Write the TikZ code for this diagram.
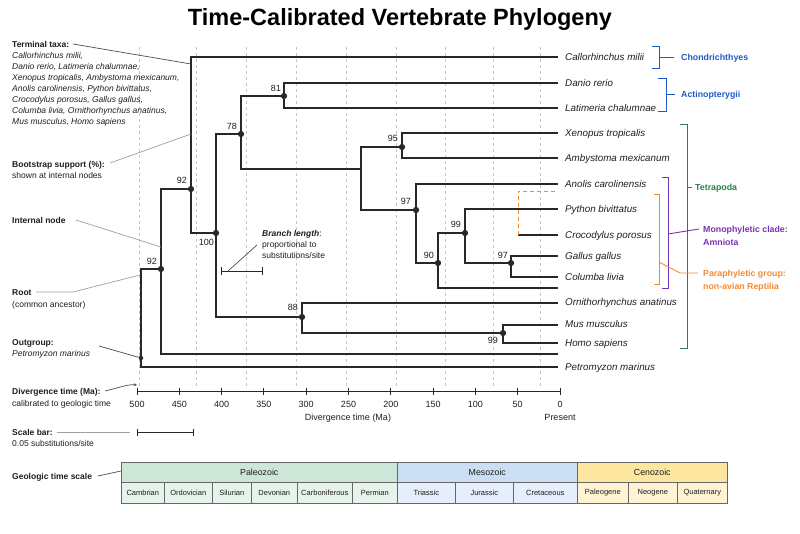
\documentclass[tikz,border=0pt]{standalone}
\usepackage{fontspec}
\setmainfont{Liberation Sans}
\usetikzlibrary{calc,arrows.meta}
\definecolor{treeclr}{RGB}{40,40,40}
\definecolor{txt}{RGB}{30,30,30}
\definecolor{cblue}{RGB}{30,90,200}
\definecolor{cgreen}{RGB}{35,130,75}
\definecolor{cpurple}{RGB}{118,52,180}
\definecolor{corange}{RGB}{240,140,50}
\definecolor{paleoH}{RGB}{206,230,215}
\definecolor{paleoC}{RGB}{230,243,235}
\definecolor{mesoH}{RGB}{204,222,244}
\definecolor{mesoC}{RGB}{229,238,250}
\definecolor{cenoH}{RGB}{252,230,160}
\definecolor{cenoC}{RGB}{254,244,212}
\begin{document}
\begin{tikzpicture}[x=1pt,y=-1pt,
  ann/.style={font=\fontsize{8.5}{10}\selectfont, text=txt, anchor=base west, inner sep=0pt},
  annb/.style={ann, font=\fontsize{8.5}{10}\selectfont\bfseries},
  anni/.style={ann, font=\fontsize{8.5}{10}\selectfont\itshape},
  taxon/.style={font=\fontsize{9.8}{11}\selectfont\itshape, text=txt, anchor=base west, inner sep=0pt},
  br/.style={draw=treeclr, line width=1.3pt},
  dotn/.style={circle, fill=treeclr, inner sep=0pt, minimum size=6.3pt},
  bs/.style={font=\fontsize{9}{10}\selectfont, text=txt, inner sep=0pt},
  gridl/.style={draw=gray!45, line width=0.4pt, dash pattern=on 3pt off 3pt},
  ptr/.style={draw=gray!75, line width=0.7pt},
  ptrd/.style={draw=black!70, line width=0.7pt},
  clade/.style={font=\fontsize{8.8}{10}\selectfont\bfseries, anchor=base west, inner sep=0pt},
  geoH/.style={draw=black!60, line width=0.6pt, anchor=north west, inner sep=0pt, minimum height=20pt, font=\fontsize{8.8}{10}\selectfont, text=txt},
  geoC/.style={draw=black!60, line width=0.6pt, anchor=north west, inner sep=0pt, minimum height=21pt, font=\fontsize{7.5}{9}\selectfont, text=txt},
  bar/.style={draw=treeclr, line width=0.9pt}
]
\useasboundingbox (0,0) rectangle (800,533);

% title
\node[font=\fontsize{23.5}{26}\selectfont\bfseries, text=black, inner sep=0pt] (title) at (400,19) {Time-Calibrated Vertebrate Phylogeny};

% dashed grid
\foreach \gx [count=\i] in {139,196,246,296,346,396,445,493,540} {
  \coordinate (gt\i) at (\gx,47);
  \coordinate (gb\i) at (\gx,389);
  \draw[gridl] (gt\i) -- (gb\i);
}

% tree coordinates
\coordinate (root) at (141,358);
\coordinate (n92a) at (161,269);
\coordinate (n92b) at (191,189);
\coordinate (n100) at (216,233);
\coordinate (n78) at (241,134);
\coordinate (n81) at (284,96);
\coordinate (nT) at (361,169);
\coordinate (n95) at (402,147);
\coordinate (n97a) at (416,210);
\coordinate (n90) at (438,263);
\coordinate (n99a) at (465,233);
\coordinate (n97b) at (511,263);
\coordinate (n88) at (302,317);
\coordinate (n99b) at (503,333);
\coordinate (cro) at (518,235);
\coordinate (croT) at (558,191);

\coordinate (lCal) at (558,57);
\coordinate (lDan) at (558,83);
\coordinate (lLat) at (558,108);
\coordinate (lXen) at (558,133);
\coordinate (lAmb) at (558,158);
\coordinate (lAno) at (558,184);
\coordinate (lPyt) at (558,209);
\coordinate (lCro) at (558,235);
\coordinate (lGal) at (558,256);
\coordinate (lCol) at (558,277);
\coordinate (u1) at (558,288);
\coordinate (lOrn) at (558,303);
\coordinate (lMus) at (558,325);
\coordinate (lHom) at (558,343);
\coordinate (u2) at (558,354);
\coordinate (lPet) at (558,367);

% branches
\draw[br] (root) |- (n92a);
\draw[br] (root) |- (lPet);
\draw[br] (n92a) |- (n92b);
\draw[br] (n92a) |- (u2);
\draw[br] (n92b) |- (lCal);
\draw[br] (n92b) |- (n100);
\draw[br] (n100) |- (n78);
\draw[br] (n100) |- (n88);
\draw[br] (n78) |- (n81);
\draw[br] (n78) |- (nT);
\draw[br] (n81) |- (lDan);
\draw[br] (n81) |- (lLat);
\draw[br] (nT) |- (n95);
\draw[br] (nT) |- (n97a);
\draw[br] (n95) |- (lXen);
\draw[br] (n95) |- (lAmb);
\draw[br] (n97a) |- (lAno);
\draw[br] (n97a) |- (n90);
\draw[br] (n90) |- (n99a);
\draw[br] (n90) |- (u1);
\draw[br] (n99a) |- (lPyt);
\draw[br] (n99a) |- (n97b);
\draw[br] (n97b) |- (lGal);
\draw[br] (n97b) |- (lCol);
\draw[br] (cro) -- (lCro);
\draw[draw=corange, line width=1pt, dash pattern=on 4pt off 3pt] (cro) |- (croT);
\draw[br] (n88) |- (lOrn);
\draw[br] (n88) |- (n99b);
\draw[br] (n99b) |- (lMus);
\draw[br] (n99b) |- (lHom);

% dots
\node[dotn, minimum size=4.5pt] (droot) at (root) {};
\foreach \c in {n92a,n92b,n100,n78,n81,n95,n97a,n90,n99a,n97b,n88,n99b} {
  \node[dotn] (d\c) at (\c) {};
}

% bootstrap labels
\node[bs, anchor=south east] (b92a) at (157,265) {92};
\node[bs, anchor=south east] (b92b) at (187,184) {92};
\node[bs, anchor=north east] (b100) at (214,239) {100};
\node[bs, anchor=south east] (b78) at (237,130) {78};
\node[bs, anchor=south east] (b81) at (281,92) {81};
\node[bs, anchor=south east] (b95) at (398,142) {95};
\node[bs, anchor=south east] (b97a) at (411,205) {97};
\node[bs, anchor=south east] (b90) at (434,259) {90};
\node[bs, anchor=south east] (b99a) at (461,228) {99};
\node[bs, anchor=south east] (b97b) at (508,259) {97};
\node[bs, anchor=south east] (b88) at (298,311) {88};
\node[bs, anchor=north east] (b99b) at (498,337) {99};

% taxon labels
\node[taxon] (tCal) at (565,60.3) {Callorhinchus milii};
\node[taxon] (tDan) at (565,86.3) {Danio rerio};
\node[taxon] (tLat) at (565,111.3) {Latimeria chalumnae};
\node[taxon] (tXen) at (565,136.3) {Xenopus tropicalis};
\node[taxon] (tAmb) at (565,161.3) {Ambystoma mexicanum};
\node[taxon] (tAno) at (565,187.3) {Anolis carolinensis};
\node[taxon] (tPyt) at (565,212.3) {Python bivittatus};
\node[taxon] (tCro) at (565,238.3) {Crocodylus porosus};
\node[taxon] (tGal) at (565,259.3) {Gallus gallus};
\node[taxon] (tCol) at (565,280.3) {Columba livia};
\node[taxon] (tOrn) at (565,305.3) {Ornithorhynchus anatinus};
\node[taxon] (tMus) at (565,327.3) {Mus musculus};
\node[taxon] (tHom) at (565,346.3) {Homo sapiens};
\node[taxon] (tPet) at (565,370.3) {Petromyzon marinus};

% clade brackets
\draw[cblue, line width=0.9pt] (652,46) -- (659,46) -- (659,68) -- (652,68);
\coordinate (chA) at (659,57); \coordinate (chB) at (674,57);
\draw[cblue, line width=0.9pt] (chA) -- (chB);
\node[clade, text=cblue] (lchon) at (681,60.2) {Chondrichthyes};
\draw[cblue, line width=0.9pt] (658,78) -- (666,78) -- (666,111) -- (658,111);
\coordinate (acA) at (666,94.5); \coordinate (acB) at (675,94.5);
\draw[cblue, line width=0.9pt] (acA) -- (acB);
\node[clade, text=cblue] (lact) at (681,97.7) {Actinopterygii};
\draw[cgreen, line width=0.9pt] (680,124) -- (687,124) -- (687,348) -- (680,348);
\coordinate (teA) at (687,187); \coordinate (teB) at (692,187);
\draw[cgreen, line width=0.9pt] (teA) -- (teB);
\node[clade, text=cgreen] (ltet) at (695,190.2) {Tetrapoda};
\draw[cpurple, line width=0.9pt] (662,177) -- (668,177) -- (668,288) -- (662,288);
\coordinate (amA) at (668,234); \coordinate (amB) at (699,229);
\draw[cpurple, line width=0.9pt] (amA) -- (amB);
\node[clade, text=cpurple] (lmono) at (703,232.2) {Monophyletic clade:};
\node[clade, text=cpurple] (lamn) at (703,245.2) {Amniota};
\draw[corange, line width=0.9pt] (654,194) -- (659,194) -- (659,284) -- (654,284);
\coordinate (rpA) at (659,262); \coordinate (rpB) at (698,273);
\draw[corange, line width=0.9pt] (rpA) -- (680,273) -- (rpB);
\node[clade, text=corange] (lpara) at (703,276.2) {Paraphyletic group:};
\node[clade, text=corange] (lrep) at (703,289.2) {non-avian Reptilia};

% left annotations
\node[annb] (aTT) at (12,47) {Terminal taxa:};
\node[anni] (aT1) at (12,58) {Callorhinchus milii,};
\node[anni] (aT2) at (12,69) {Danio rerio, Latimeria chalumnae,};
\node[anni] (aT3) at (12,80) {Xenopus tropicalis, Ambystoma mexicanum,};
\node[anni] (aT4) at (12,91) {Anolis carolinensis, Python bivittatus,};
\node[anni] (aT5) at (12,102) {Crocodylus porosus, Gallus gallus,};
\node[anni] (aT6) at (12,113) {Columba livia, Ornithorhynchus anatinus,};
\node[anni] (aT7) at (12,124) {Mus musculus, Homo sapiens};
\coordinate (pTTa) at (73,44); \coordinate (pTTb) at (191,64);
\draw[ptrd] (pTTa) -- (pTTb);

\node[annb] (aBS) at (12,167) {Bootstrap support (\%):};
\node[ann] (aBS2) at (12,178) {shown at internal nodes};
\coordinate (pBSa) at (110,163); \coordinate (pBSb) at (191,134);
\draw[ptr] (pBSa) -- (pBSb);

\node[annb] (aIN) at (12,223) {Internal node};
\coordinate (pINa) at (76,220); \coordinate (pINb) at (161,247);
\draw[ptr] (pINa) -- (pINb);

\node[annb] (aRT) at (12,295) {Root};
\node[ann] (aRT2) at (12,307) {(common ancestor)};
\coordinate (pRTa) at (36,292); \coordinate (pRTb) at (140,275);
\draw[ptr] (pRTa) -- (73,292) -- (pRTb);

\node[annb] (aOG) at (12,345) {Outgroup:};
\node[anni] (aOG2) at (12,356) {Petromyzon marinus};
\coordinate (pOGa) at (99,346);
\draw[ptrd] (pOGa) -- (droot);

\node[annb] (aDT) at (12,394) {Divergence time (Ma):};
\node[ann] (aDT2) at (12,406) {calibrated to geologic time};
\coordinate (pDTa) at (105,391); \coordinate (pDTb) at (137,385);
\draw[ptrd, -{Stealth[length=3pt,width=3pt]}] (pDTa) .. controls (118,388) and (128,384) .. (pDTb);

\node[annb] (aSB) at (12,435) {Scale bar:};
\node[ann] (aSB2) at (12,446) {0.05 substitutions/site};
\coordinate (pSBa) at (57,432); \coordinate (pSBb) at (130,432);
\draw[ptr] (pSBa) -- (pSBb);

% scale bar
\coordinate (sb1) at (137,432); \coordinate (sb2) at (193,432);
\draw[bar] (sb1) -- (sb2);
\draw[bar] (137,428.5) -- (137,435.5);
\draw[bar] (193,428.5) -- (193,435.5);

% branch length annotation
\node[ann, font=\fontsize{8.5}{10}\selectfont] (aBL) at (262,236) {\textbf{\textit{Branch length}}:};
\node[ann] (aBL2) at (262,247) {proportional to};
\node[ann] (aBL3) at (262,258) {substitutions/site};
\coordinate (bl1) at (221,271); \coordinate (bl2) at (262,271);
\draw[bar] (bl1) -- (bl2);
\draw[bar] (221,267) -- (221,275);
\draw[bar] (262,267) -- (262,275);
\coordinate (pBLa) at (257,245); \coordinate (pBLb) at (228,271);
\draw[ptrd] (pBLa) -- (pBLb);

% time axis
\coordinate (ax1) at (137,391); \coordinate (ax2) at (560,391);
\draw[bar] (ax1) -- (ax2);
\foreach \m in {0,50,...,500} {
  \pgfmathsetmacro\xx{560-0.846*\m}
  \draw[bar] (\xx,387.5) -- (\xx,394.5);
  \node[bs, anchor=base] (tk\m) at (\xx,407) {\m};
}
\node[bs, anchor=base] (axl) at (348,420) {Divergence time (Ma)};
\node[bs, anchor=base] (pres) at (560,420) {Present};

% geologic time scale
\node[annb] (aGT) at (12,479) {Geologic time scale};
\coordinate (pGTa) at (98,476); \coordinate (pGTb) at (121,471);
\draw[ptrd] (pGTa) -- (pGTb);

\node[geoH, fill=paleoH, minimum width=276pt] (paleo) at (121,462) {Paleozoic};
\node[geoH, fill=mesoH, minimum width=180pt] (meso) at (397,462) {Mesozoic};
\node[geoH, fill=cenoH, minimum width=150pt] (ceno) at (577,462) {Cenozoic};
\foreach \a/\w/\n/\c in {121/43/Cambrian/paleoC, 164/48/Ordovician/paleoC, 212/39/Silurian/paleoC, 251/46/Devonian/paleoC, 297/55/Carboniferous/paleoC, 352/45/Permian/paleoC, 397/58/Triassic/mesoC, 455/58/Jurassic/mesoC, 513/64/Cretaceous/mesoC, 577/51/Paleogene/cenoC, 628/49/Neogene/cenoC, 677/50/Quaternary/cenoC} {
  \node[geoC, fill=\c, minimum width=\w pt] (p\n) at (\a,482) {\n};
}
\end{tikzpicture}
\end{document}
